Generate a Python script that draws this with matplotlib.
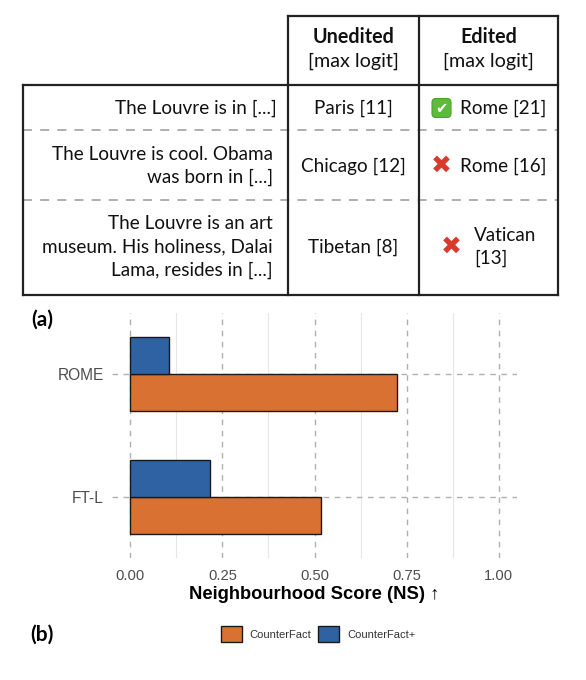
import numpy as np
import matplotlib.pyplot as plt
from matplotlib.patches import Patch, FancyBboxPatch

# table contents
prompts = ['The Louvre is in [...]',
           'The Louvre is cool. Obama\nwas born in [...]',
           'The Louvre is an art\nmuseum. His holiness, Dalai\nLama, resides in [...]']
unedited = ['Paris [11]', 'Chicago [12]', 'Tibetan [8]']
edited = ['Rome [21]', 'Rome [16]', 'Vatican\n[13]']
edited_ok = [True, False, False]
col_heads = ['Unedited', 'Edited']

# bar chart data
methods = ['FT-L', 'ROME']
counterfact = [0.519, 0.723]
counterfact_plus = [0.215, 0.106]
series_names = ['CounterFact', 'CounterFact+']
xticks = [0.0, 0.25, 0.5, 0.75, 1.0]

ORANGE = '#d97132'
BLUE = '#2e62a3'
LATO = ['Lato', 'DejaVu Sans']
SANS = ['Liberation Sans', 'DejaVu Sans']
FS = 13.6   # table body text
FSH = 14.2  # table header text

W, H = 586, 680
fig = plt.figure(figsize=(W / 100, H / 100), dpi=100)

# ---- (a) table, drawn in pixel coordinates ----
tab = fig.add_axes([0, 0, 1, 1])
tab.set_xlim(0, W)
tab.set_ylim(H, 0)
tab.axis('off')

x_left, x_c1, x_c2, x_right = 23, 288, 419, 558
y_top, y_head, y_bot = 16, 85, 295
row_lines = [130, 200]
row_mid = [108, 166, 247]
lk = dict(color='#222222', lw=1.6, solid_capstyle='projecting')

tab.plot([x_c1, x_right], [y_top, y_top], **lk)
tab.plot([x_left, x_right], [y_head, y_head], **lk)
tab.plot([x_left, x_right], [y_bot, y_bot], **lk)
tab.plot([x_left, x_left], [y_head, y_bot], **lk)
for xv in [x_c1, x_c2, x_right]:
    tab.plot([xv, xv], [y_top, y_bot], **lk)
for yv in row_lines:
    tab.plot([x_left, x_right], [yv, yv], color='#a8a8a8', lw=1.3,
             dashes=(5, 4.5), zorder=1)

c_mid = [(x_c1 + x_c2) / 2, (x_c2 + x_right) / 2]
for cx, head in zip(c_mid, col_heads):
    tab.text(cx, 37, head, ha='center', va='center', fontsize=FSH,
             fontweight='bold', family=LATO, color='#111111')
    tab.text(cx, 61, '[max logit]', ha='center', va='center', fontsize=FSH,
             family=LATO, color='#111111')

for i, y in enumerate(row_mid):
    tab.text(277 if i == 0 else 273, y, prompts[i], ha='right', va='center',
             multialignment='right', fontsize=FS, family=LATO,
             linespacing=1.42, color='#111111')
    tab.text(c_mid[0], y, unedited[i], ha='center', va='center',
             fontsize=FS, family=LATO, color='#111111')
    single = '\n' not in edited[i]
    icon_x = 441.5 if single else 451
    text_x = 460 if single else 474
    if edited_ok[i]:
        box = FancyBboxPatch((icon_x - 9.5, y - 9.5), 19, 19,
                             boxstyle='round,pad=0,rounding_size=4',
                             fc='#5dba3b', ec='#4aa42c', lw=0.8)
        tab.add_patch(box)
        tab.text(icon_x, y + 0.5, '\u2714', ha='center', va='center',
                 fontsize=10.5, color='white', family='DejaVu Sans')
    else:
        tab.text(icon_x, y, '\u2716', ha='center', va='center',
                 fontsize=18, color='#d93a2b', family='DejaVu Sans')
    tab.text(text_x, y, edited[i], ha='left', va='center', fontsize=FS,
             family=LATO, linespacing=1.38, color='#111111')

tab.text(42, 320, '(a)', ha='center', va='center', fontsize=15,
         fontweight='bold', family=LATO)
tab.text(42, 635, '(b)', ha='center', va='center', fontsize=15,
         fontweight='bold', family=LATO)

# ---- (b) bar chart ----
px0, px1, py0, py1 = 112, 517, 313, 558
ax = fig.add_axes([px0 / W, 1 - py1 / H, (px1 - px0) / W, (py1 - py0) / H])
ax.set_facecolor('none')

pos = np.arange(1, len(methods) + 1)
bh = 0.30
ax.barh(pos - bh / 2, counterfact, height=bh, color=ORANGE,
        edgecolor='#1a1a1a', lw=1.0, zorder=3, label=series_names[0])
ax.barh(pos + bh / 2, counterfact_plus, height=bh, color=BLUE,
        edgecolor='#1a1a1a', lw=1.0, zorder=3, label=series_names[1])

ax.set_xlim(-0.05, 1.05)
ax.set_ylim(0.5, 2.5)
ax.set_xticks(xticks)
ax.set_xticklabels([f'{t:.2f}' for t in xticks])
ax.set_xticks(np.array(xticks[:-1]) + 0.125, minor=True)
ax.set_yticks(pos)
ax.set_yticklabels(methods)
ax.grid(axis='x', which='major', color='#b0b0b0', lw=1.0, dashes=(4, 4), zorder=0)
ax.grid(axis='x', which='minor', color='#e6e6e6', lw=0.8, zorder=0)
ax.grid(axis='y', which='major', color='#b0b0b0', lw=1.0, dashes=(4, 4), zorder=0)
ax.tick_params(which='both', length=0)
ax.tick_params(axis='x', pad=8, labelsize=10.6, labelcolor='#4d4d4d')
ax.tick_params(axis='y', pad=6, labelsize=11.2, labelcolor='#4d4d4d')
for lab in ax.get_xticklabels() + ax.get_yticklabels():
    lab.set_family(SANS)
for s in ax.spines.values():
    s.set_visible(False)
ax.set_xlabel('Neighbourhood Score (NS) \u2191', fontsize=13.2, fontweight='bold',
              family=SANS, labelpad=2)

handles = [Patch(fc=ORANGE, ec='#1a1a1a', lw=1.0),
           Patch(fc=BLUE, ec='#1a1a1a', lw=1.0)]
fig.legend(handles, series_names, loc='center', bbox_to_anchor=(318 / W, 1 - 634 / H),
           ncol=2, frameon=False, prop={'family': SANS, 'size': 8},
           handlelength=1.9, handleheight=1.9, handletextpad=0.7,
           columnspacing=0.6, labelcolor='#333333')

fig.savefig('out.png', dpi=100, facecolor='white')
